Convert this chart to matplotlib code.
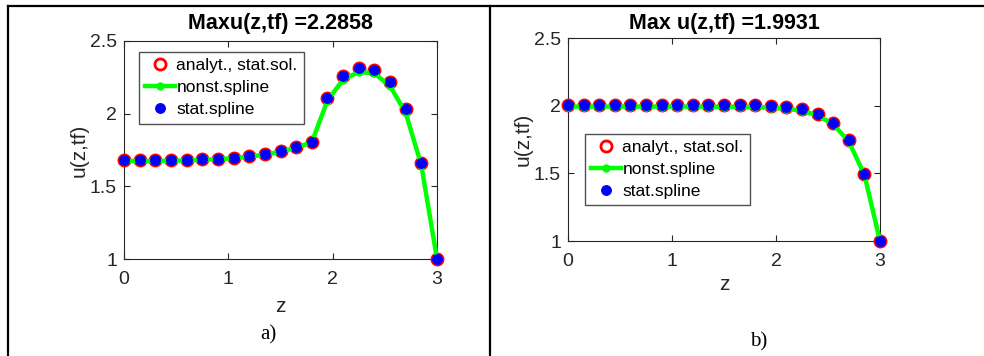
import matplotlib.pyplot as plt
import numpy as np

# z grid (21 nodes)
z = [0, 0.15, 0.3, 0.45, 0.6, 0.75, 0.9, 1.05, 1.2, 1.35, 1.5,
     1.65, 1.8, 1.95, 2.1, 2.25, 2.4, 2.55, 2.7, 2.85, 3.0]

# panel a)
a_stat = [1.679, 1.679, 1.679, 1.680, 1.682, 1.686, 1.691, 1.698, 1.708, 1.722, 1.742,
          1.770, 1.808, 2.109, 2.258, 2.312, 2.303, 2.216, 2.029, 1.663, 1.0]
a_nonst = [1.675, 1.675, 1.675, 1.676, 1.678, 1.682, 1.687, 1.694, 1.704, 1.718, 1.738,
           1.766, 1.804, 2.090, 2.235, 2.286, 2.278, 2.190, 2.005, 1.645, 1.0]
# panel b)
b_stat = [2.006, 2.006, 2.006, 2.006, 2.006, 2.006, 2.006, 2.006, 2.006, 2.005, 2.005,
          2.004, 2.002, 1.998, 1.990, 1.975, 1.940, 1.873, 1.745, 1.498, 1.0]
b_nonst = [1.993, 1.993, 1.993, 1.993, 1.993, 1.993, 1.993, 1.993, 1.993, 1.992, 1.992,
           1.991, 1.989, 1.985, 1.977, 1.962, 1.928, 1.862, 1.735, 1.490, 1.0]

titles = ['Maxu(z,tf) =2.2858', 'Max u(z,tf) =1.9931']
tags = ['a)', 'b)']

plt.rcParams['font.family'] = ['Liberation Sans', 'DejaVu Sans']

W, H = 984, 356
fig = plt.figure(figsize=(W / 100, H / 100), dpi=100)

def px(l, t, r, b):
    return [l / W, 1 - b / H, (r - l) / W, (b - t) / H]

# table frame
fl = dict(color='black', lw=1.6, transform=fig.transFigure, clip_on=False)
fig.add_artist(plt.Line2D([7.5 / W, 983 / W], [1 - 5.5 / H] * 2, **fl))
fig.add_artist(plt.Line2D([7.5 / W] * 2, [0, 1 - 5.5 / H], **fl))
fig.add_artist(plt.Line2D([490 / W] * 2, [0, 1 - 5.5 / H], **fl))

boxes = [px(124, 41, 437, 259), px(568, 38, 880, 241)]
data = [(a_stat, a_nonst), (b_stat, b_nonst)]
legpos = [(139, 52), (585, 134)]
tagpos = [(268, 335), (759, 342)]
title_y = [24, 23]
xlab_y = [307, 285]
ylab_x = [79, 523]
dark = '#262626'

for k in range(2):
    ax = fig.add_axes(boxes[k])
    st, ns = data[k]
    ax.plot(z, st, 'o', mfc='none', mec='red', mew=2.0, ms=8, label='analyt., stat.sol.',
            zorder=3, clip_on=False)
    ax.plot(z, ns, '-', color='#00ff00', lw=3.2, marker='o', ms=5, label='nonst.spline',
            zorder=4, clip_on=False)
    ax.plot(z, st, 'o', color='blue', ms=7, mew=0.8, mec='blue', label='stat.spline',
            zorder=5, clip_on=False)
    ax.set_xlim(0, 3)
    ax.set_ylim(1, 2.5)
    ax.set_xticks([0, 1, 2, 3])
    ax.set_yticks([1, 1.5, 2, 2.5])
    ax.set_yticklabels(['1', '1.5', '2', '2.5'])
    ax.tick_params(direction='in', top=True, right=True, length=4, width=0.8,
                   labelsize=14, colors=dark, labelcolor=dark)
    ax.tick_params(axis='x', pad=9)
    ax.tick_params(axis='y', pad=5)
    for s in ax.spines.values():
        s.set_linewidth(0.8)
        s.set_color(dark)
    cx = (boxes[k][0] + boxes[k][2] / 2)
    fig.text(cx, 1 - title_y[k] / H, titles[k], ha='center', va='center',
             fontsize=15.5, fontweight='bold')
    fig.text(ylab_x[k] / W, boxes[k][1] + boxes[k][3] / 2, 'u(z,tf)', rotation=90,
             ha='center', va='center', fontsize=15, color=dark)
    fig.text(cx, 1 - xlab_y[k] / H, 'z', ha='center', va='center', fontsize=15, color=dark)
    leg = ax.legend(loc='upper left', fontsize=12.5, frameon=True, fancybox=False,
                    edgecolor=dark, borderpad=0.35, handlelength=1.7, borderaxespad=0,
                    handletextpad=0.1, labelspacing=0.4,
                    bbox_to_anchor=(legpos[k][0] / W, 1 - legpos[k][1] / H),
                    bbox_transform=fig.transFigure)
    leg.get_frame().set_linewidth(1.0)
    leg.set_zorder(10)
    fig.text(tagpos[k][0] / W, 1 - tagpos[k][1] / H, tags[k], ha='center', va='center',
             fontsize=15, family='Liberation Serif')

fig.savefig('out.png', dpi=100)
